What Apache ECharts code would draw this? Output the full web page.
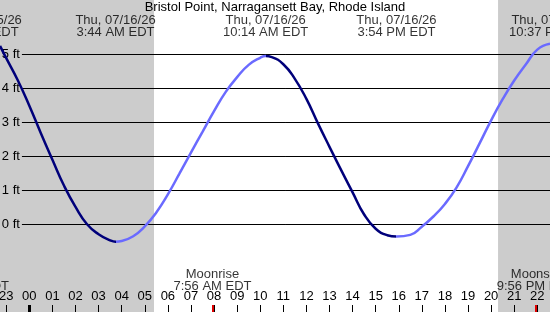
<!DOCTYPE html>
<html><head><meta charset="utf-8">
<script src="https://cdn.jsdelivr.net/npm/echarts@6/dist/echarts.min.js"></script>
<style>html,body{margin:0;padding:0;background:#fff}#c{width:550px;height:312px}</style>
</head><body><div id="c"></div>
<script>
const chartTitle = "Bristol Point, Narragansett Bay, Rhode Island";
// tide curve: hours after midnight 07/16, feet
const tideHours = [-1.27, -1.0, -0.5, 0.0, 0.5, 1.0, 1.5, 2.0, 2.5, 3.0, 3.5, 3.733,
  4.0, 4.5, 5.0, 5.5, 6.0, 6.5, 7.0, 7.5, 8.0, 8.5, 9.0, 9.5, 10.0, 10.233,
  10.5, 11.0, 11.5, 12.0, 12.5, 13.0, 13.5, 14.0, 14.5, 15.0, 15.5, 15.9,
  16.5, 17.0, 17.5, 18.0, 18.5, 19.0, 19.5, 20.0, 20.5, 21.0, 21.5, 22.0, 22.55];
const tideFeet = [5.24, 4.88, 4.23, 3.48, 2.67, 1.89, 1.13, 0.50, -0.01, -0.30, -0.48, -0.52,
  -0.50, -0.36, -0.07, 0.34, 0.87, 1.48, 2.10, 2.71, 3.32, 3.88, 4.32, 4.68, 4.89, 4.94,
  4.91, 4.70, 4.27, 3.68, 2.96, 2.27, 1.59, 0.93, 0.28, -0.14, -0.33, -0.37,
  -0.32, -0.08, 0.22, 0.59, 1.07, 1.70, 2.37, 3.05, 3.67, 4.22, 4.69, 5.13, 5.30];
// high / low tide events
const extremeHours = [-2.15, 3.733, 10.233, 15.9, 22.617];
const extremeLabels = ["Wed, 07/15/26\n9:51 PM EDT", "Thu, 07/16/26\n3:44 AM EDT", "Thu, 07/16/26\n10:14 AM EDT", "Thu, 07/16/26\n3:54 PM EDT", "Thu, 07/16/26\n10:37 PM EDT"];
// moon events
const moonHours = [-2.567, 7.933, 21.933];
const moonLabels = ["Moonset\n9:26 PM EDT", "Moonrise\n7:56 AM EDT", "Moonset\n9:56 PM EDT"];
// axis
const hourTicks = [-1,0,1,2,3,4,5,6,7,8,9,10,11,12,13,14,15,16,17,18,19,20,21,22];
const levelFeet = [0,1,2,3,4,5];
const sunriseHour = 5.40, sunsetHour = 20.30;

const X_MIN = -1.27, X_MAX = 22.55, Y_MIN = -2.59, Y_MAX = 6.59;
const FONT = 'Liberation Sans';
const DARK = '#00007a', LIGHT = '#6a6aff', NIGHT = '#cccccc';
const LEVEL_START = -0.32;      // where level lines begin (hours)
const TICK_LEN = 7 / 34;        // 7px in feet units

const chart = echarts.init(document.getElementById('c'), null, {renderer: 'canvas'});

const levelLines = levelFeet.map(v => [
  {coord: [LEVEL_START, v], name: v + ' ft'},
  {coord: [X_MAX, v]}
]);
const specialTicks = [
  [{coord: [0, Y_MIN], lineStyle: {width: 3, color: '#000'}, label: {show: false}}, {coord: [0, Y_MIN + TICK_LEN]}]
].concat(moonHours.map(h => [
  {coord: [h, Y_MIN], lineStyle: {width: 2, color: '#e00000'}, label: {show: false}}, {coord: [h, Y_MIN + TICK_LEN]}
]));

const option = {
  animation: false,
  backgroundColor: '#fff',
  title: {
    text: chartTitle, left: 'center', top: 1, padding: [0, 0, 0, 0],
    textStyle: {fontFamily: FONT, fontSize: 13, fontWeight: 'normal', color: '#000'}
  },
  grid: {left: 0, right: 0, top: 0, bottom: 0, containLabel: false, outerBoundsMode: 'none'},
  xAxis: {
    type: 'value', min: X_MIN, max: X_MAX, z: 10,
    axisLine: {show: false, onZero: false}, splitLine: {show: false},
    axisTick: {show: true, inside: true, length: 7, customValues: hourTicks, lineStyle: {color: '#000', width: 1}},
    axisLabel: {
      show: true, inside: true, customValues: hourTicks, margin: 9,
      fontFamily: FONT, fontSize: 13, color: '#000',
      formatter: v => String((Math.round(v) + 24) % 24).padStart(2, '0')
    }
  },
  yAxis: {type: 'value', min: Y_MIN, max: Y_MAX, show: false},
  visualMap: {
    show: false, type: 'piecewise', dimension: 0, seriesIndex: 0,
    pieces: [
      {lt: extremeHours[1], color: DARK},
      {gte: extremeHours[1], lt: extremeHours[2], color: LIGHT},
      {gte: extremeHours[2], lt: extremeHours[3], color: DARK},
      {gte: extremeHours[3], color: LIGHT}
    ]
  },
  series: [
    {
      type: 'line', z: 5, symbol: 'none', smooth: 0.5,
      lineStyle: {width: 2.5},
      data: tideHours.map((h, i) => [h, tideFeet[i]])
    },
    {
      type: 'line', z: 2, data: [], silent: true,
      markArea: {
        silent: true, itemStyle: {color: NIGHT},
        data: [
          [{xAxis: X_MIN}, {xAxis: sunriseHour}],
          [{xAxis: sunsetHour}, {xAxis: X_MAX}]
        ]
      },
      markLine: {
        silent: true, symbol: ['none', 'none'],
        lineStyle: {color: '#000', width: 1, type: 'solid'},
        label: {show: true, position: 'start', distance: 2, formatter: '{b}', fontFamily: FONT, fontSize: 13, color: '#000'},
        data: levelLines.concat(specialTicks)
      }
    },
    {
      type: 'scatter', z: 6, symbolSize: 0, clip: false, silent: true,
      data: extremeHours.map(h => [h, Y_MAX]),
      label: {
        show: true, position: 'bottom', distance: 14, align: 'center',
        fontFamily: FONT, fontSize: 13, lineHeight: 12, color: '#000',
        formatter: p => extremeLabels[p.dataIndex]
      }
    },
    {
      type: 'scatter', z: 6, symbolSize: 0, clip: false, silent: true,
      data: moonHours.map(h => [h, Y_MIN]),
      label: {
        show: true, position: 'top', distance: 20, align: 'center',
        fontFamily: FONT, fontSize: 13, lineHeight: 12, color: '#000',
        formatter: p => moonLabels[p.dataIndex]
      }
    }
  ]
};
chart.setOption(option);
</script></body></html>
